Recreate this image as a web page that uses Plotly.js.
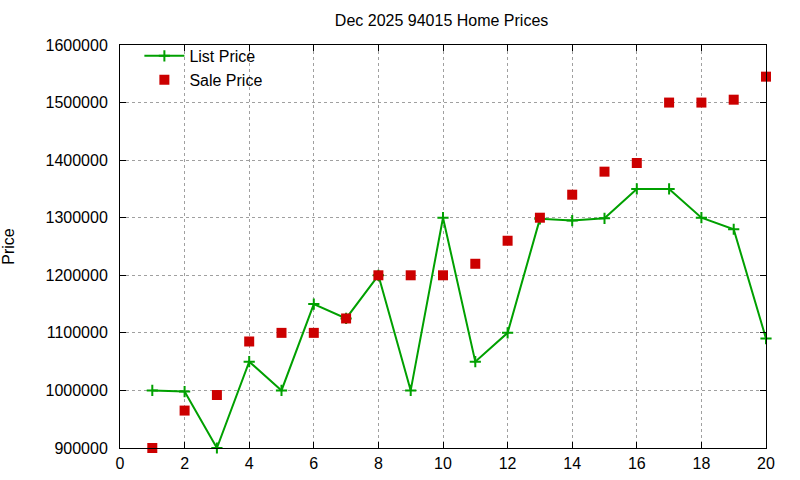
<!DOCTYPE html>
<html>
<head>
<meta charset="utf-8">
<script src="https://cdn.plot.ly/plotly-3.0.1.min.js"></script>
<style>
  html, body { margin: 0; padding: 0; background: #fff; }
  #chart { width: 800px; height: 480px; }
</style>
</head>
<body>
<div id="chart"></div>
<script>
// data
const listingNo  = [1, 2, 3, 4, 5, 6, 7, 8, 9, 10, 11, 12, 13, 14, 15, 16, 17, 18, 19, 20];
const listPrice  = [1000000, 998000, 900000, 1050000, 1000000, 1150000, 1125000, 1200000, 1000000, 1300000,
                    1050000, 1100000, 1298000, 1295000, 1299000, 1350000, 1350000, 1300000, 1280000, 1090000];
const salePrice  = [900000, 965000, 992000, 1085000, 1100000, 1100000, 1125000, 1200000, 1200000, 1200000,
                    1220000, 1260000, 1300000, 1340000, 1380000, 1395000, 1500000, 1500000, 1505000, 1545000];
const xTicks     = [0, 2, 4, 6, 8, 10, 12, 14, 16, 18, 20];
const yTicks     = [900000, 1000000, 1100000, 1200000, 1300000, 1400000, 1500000, 1600000];

const FONT = 'Liberation Sans, Arial, sans-serif';

const axisCommon = {
  showline: true,
  linecolor: '#000',
  linewidth: 1,
  mirror: 'ticks',
  ticks: 'inside',
  ticklen: 6,
  tickcolor: '#000',
  showgrid: true,
  gridcolor: '#a0a0a0',
  griddash: 'dot',
  gridwidth: 1,
  zeroline: false,
  tickfont: { family: FONT, size: 16, color: '#000' },
};

const traces = [
  {
    x: listingNo, y: listPrice,
    name: 'List Price',
    type: 'scatter', mode: 'lines+markers',
    line: { color: '#00a000', width: 2 },
    marker: { symbol: 'cross-thin-open', size: 8, color: '#00a000', line: { color: '#00a000', width: 2 } },
    cliponaxis: false,
  },
  {
    x: listingNo, y: salePrice,
    name: 'Sale Price',
    type: 'scatter', mode: 'markers',
    marker: { symbol: 'square', size: 10, color: '#cc0000' },
    cliponaxis: false,
  },
];

const layout = {
  width: 800, height: 480,
  paper_bgcolor: '#fff', plot_bgcolor: '#fff',
  font: { family: FONT, size: 16, color: '#000' },
  margin: { l: 120, r: 34, t: 45, b: 32 },
  title: { text: 'Dec 2025 94015 Home Prices', x: 0.552, xanchor: 'center', y: 0.958, yanchor: 'middle',
           font: { family: FONT, size: 16, color: '#000' } },
  showlegend: true,
  legend: {
    x: 0.03, y: 1.015, xanchor: 'left', yanchor: 'top',
    bgcolor: 'rgba(0,0,0,0)', borderwidth: 0,
    font: { family: FONT, size: 16, color: '#000' },
    tracegroupgap: 0, itemwidth: 40,
  },
  xaxis: Object.assign({}, axisCommon, {
    range: [0, 20], tickvals: xTicks, ticklabelstandoff: 1,
  }),
  yaxis: Object.assign({}, axisCommon, {
    range: [900000, 1600000], tickvals: yTicks, tickformat: 'd', ticklabelstandoff: 8,
    title: { text: 'Price', standoff: 27, font: { family: FONT, size: 16, color: '#000' } },
  }),
};

Plotly.newPlot('chart', traces, layout, { displayModeBar: false, staticPlot: true });
</script>
</body>
</html>
